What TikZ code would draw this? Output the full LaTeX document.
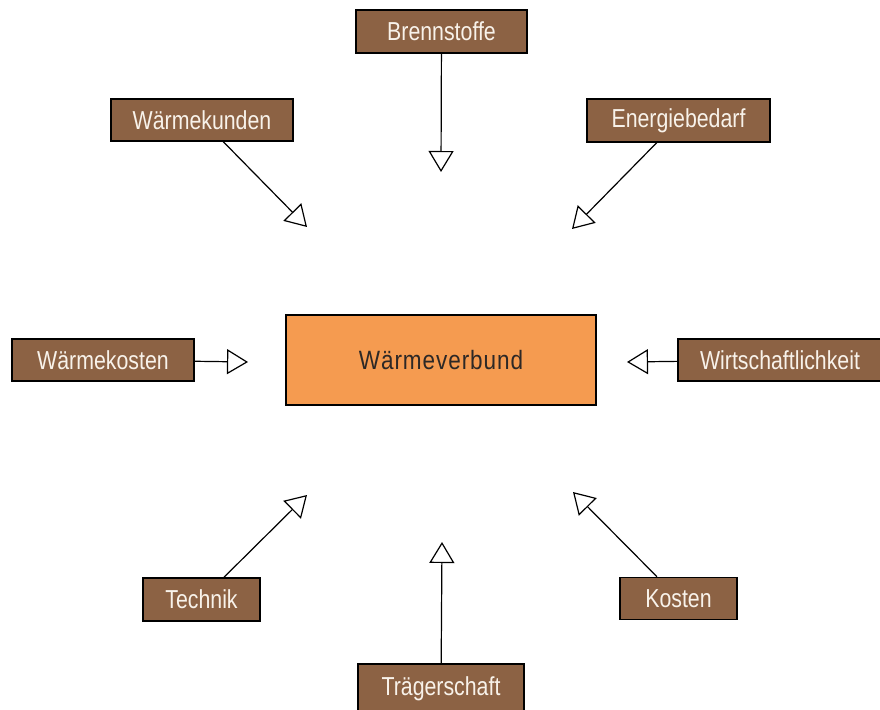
\documentclass[tikz,border=0pt]{standalone}
\usepackage{fontspec}
\setmainfont[FakeStretch=0.82]{Liberation Sans}
\newfontfamily\centerfont[FakeStretch=0.85,LetterSpace=3.5]{Liberation Sans}
\usetikzlibrary{arrows.meta}
\definecolor{boxbrown}{RGB}{140,98,68}
\definecolor{boxorange}{RGB}{245,155,80}
\definecolor{boxtext}{RGB}{248,242,234}
\definecolor{centertext}{RGB}{45,40,38}
\tikzset{
  factor/.style={draw=black, line width=1.5pt, fill=boxbrown, text=boxtext,
    inner sep=0pt, font=\fontsize{26}{28}\selectfont},
  core/.style={draw=black, line width=2.6pt, fill=boxorange, text=centertext,
    inner sep=0pt, minimum width=310pt, minimum height=90pt,
    font=\centerfont\fontsize{26.5}{30}\selectfont},
  link/.style={line width=1.2pt, -{Triangle[open, length=21pt, width=25pt, line width=1.2pt]}}
}
\begin{document}
\begin{tikzpicture}[x=1pt,y=-1pt]
\useasboundingbox (0,0) rectangle (880,709);
\begin{scope}
\clip (0,0) rectangle (880,709);
\node[core] (c) at (441,360) {Wärmeverbund};

\node[factor, minimum width=171pt, minimum height=43pt] (br) at (441.5,31.5) {Brennstoffe};
\node[factor, minimum width=182pt, minimum height=42pt] (wk) at (202,120) {Wärmekunden};
\node[factor, minimum width=183pt, minimum height=43pt] (eb) at (678.5,120.5) {Energiebedarf};
\node[factor, minimum width=182pt, minimum height=42pt] (ko) at (103,360) {Wärmekosten};
\node[factor, minimum width=212pt, minimum height=42pt] (wi) at (784,360) {\hspace*{-8pt}Wirtschaftlichkeit};
\node[factor, minimum width=117pt, minimum height=43pt] (te) at (201.5,599.5) {Technik};
\node[factor, minimum width=117pt, minimum height=42pt] (ks) at (678.5,598.5) {Kosten};
\node[factor, minimum width=166pt, minimum height=50pt] (tr) at (441,689) {\raisebox{1pt}{Trägerschaft}};

\coordinate (tbr) at (441,172);
\coordinate (twk) at (307,227);
\coordinate (teb) at (572,229);
\coordinate (tko) at (248,362);
\coordinate (twi) at (627,362);
\coordinate (tte) at (307,495);
\coordinate (tks) at (573,492);
\coordinate (ttr) at (442,542);

\draw[link] (br) -- (tbr);
\draw[link] (wk) -- (twk);
\draw[link] (eb) -- (teb);
\draw[link] (ko) -- (tko);
\draw[link] (wi) -- (twi);
\draw[link] (te) -- (tte);
\draw[link] (ks) -- (tks);
\draw[link] (tr) -- (ttr);
\end{scope}
\end{tikzpicture}
\end{document}
